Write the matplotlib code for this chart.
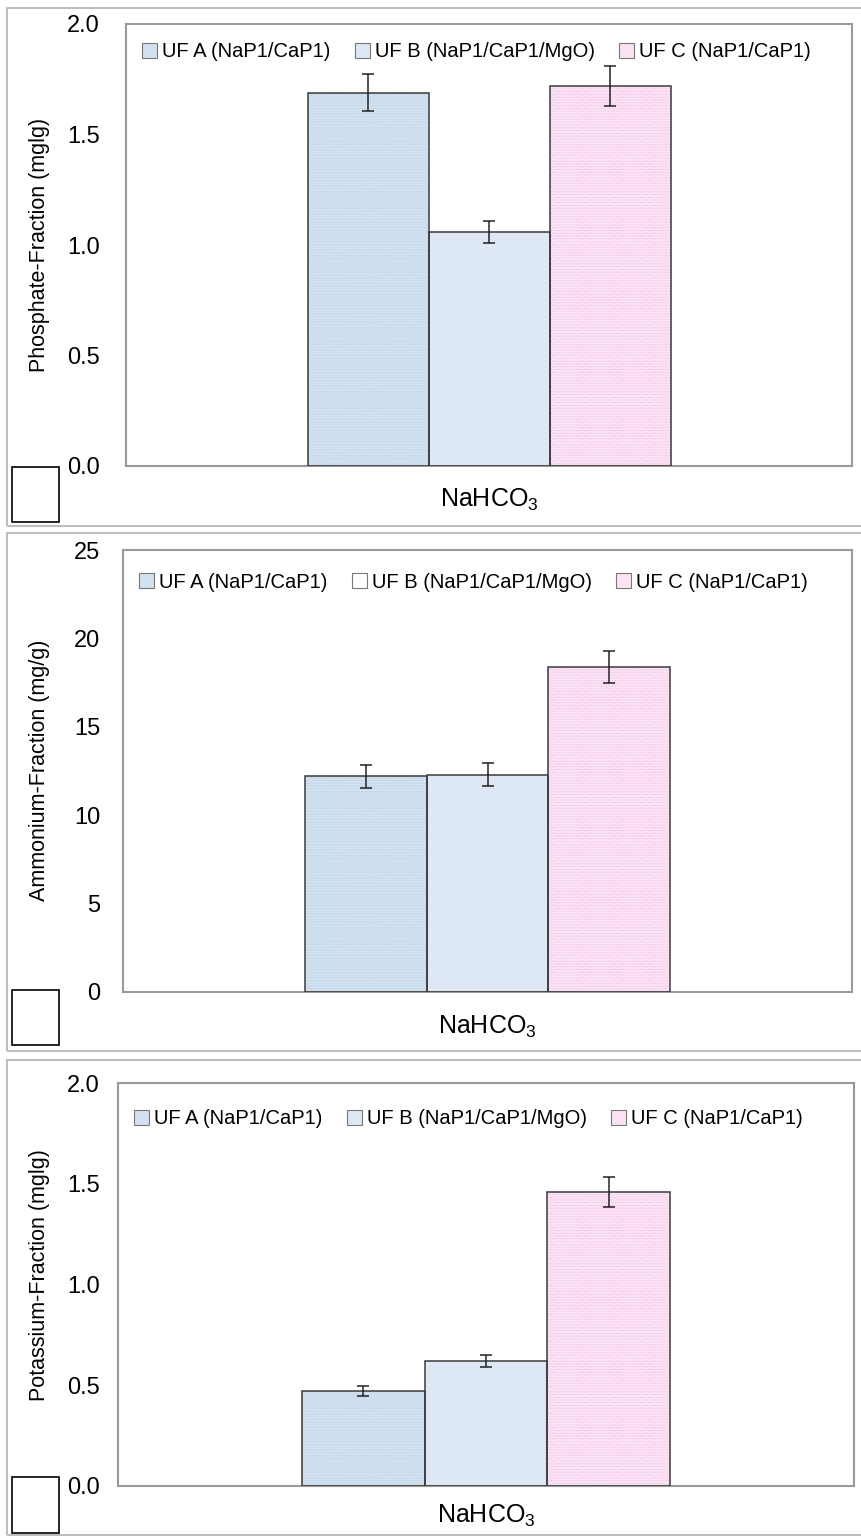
import matplotlib
matplotlib.use('Agg')
import matplotlib.pyplot as plt
from matplotlib.patches import Rectangle, Patch

# data
series = ['UF A (NaP1/CaP1)', 'UF B (NaP1/CaP1/MgO)', 'UF C (NaP1/CaP1)']
category = 'NaHCO$_3$'

phosphate = [1.69, 1.06, 1.72]
phosphate_err = [0.085, 0.05, 0.09]
ammonium = [12.2, 12.3, 18.4]
ammonium_err = [0.65, 0.65, 0.9]
potassium = [0.47, 0.62, 1.46]
potassium_err = [0.025, 0.03, 0.075]

ylabels = ['Phosphate-Fraction (mglg)', 'Ammonium-Fraction (mg/g)', 'Potassium-Fraction (mglg)']
yticks = [[0.0, 0.5, 1.0, 1.5, 2.0], [0, 5, 10, 15, 20, 25], [0.0, 0.5, 1.0, 1.5, 2.0]]
ytick_labels = [['0.0', '0.5', '1.0', '1.5', '2.0'], ['0', '5', '10', '15', '20', '25'],
                ['0.0', '0.5', '1.0', '1.5', '2.0']]

# colours
face = ['#d2e1f0', '#dde8f4', '#fbe3f5']
hatch_col = ['#b7cce2', None, '#ebb9e1']
legend_face = [face, [face[0], 'white', face[2]], face]

FONT = ['Liberation Sans', 'DejaVu Sans']
plt.rcParams['hatch.linewidth'] = 0.4
plt.rcParams['mathtext.fontset'] = 'custom'
plt.rcParams['mathtext.rm'] = 'Liberation Sans'

W, H = 861, 1536
fig = plt.figure(figsize=(W / 100, H / 100), dpi=100)

# pixel boxes: (left, top, right, bottom) of plot area, outer frame top/bottom, little box top
plots = [(126, 24, 852, 466), (123, 550, 852, 992), (118, 1083, 854, 1486)]
frames = [(8, 526), (533, 1051), (1060, 1535)]
boxes = [(467, 522), (990, 1045), (1477, 1533)]
xlab_y = [500, 1027, 1516]
ylab_y = [245, 770, 1275]
leg_y = [0.995, 0.985, 0.975]
data = [(phosphate, phosphate_err), (ammonium, ammonium_err), (potassium, potassium_err)]

def fx(px):
    return px / W

def fy(py):
    return 1 - py / H

for i in range(3):
    ft, fb = frames[i]
    fig.patches.append(Rectangle((fx(7), fy(fb)), fx(880 - 7), (fb - ft) / H,
                                 transform=fig.transFigure, fill=False,
                                 edgecolor='#bdbdbd', lw=1.5))
    bt, bb = boxes[i]
    fig.patches.append(Rectangle((fx(12), fy(bb)), fx(47), (bb - bt) / H,
                                 transform=fig.transFigure, facecolor='white',
                                 edgecolor='black', lw=1.2, zorder=5))

    l, t, r, b = plots[i]
    ax = fig.add_axes([fx(l), fy(b), (r - l) / W, (b - t) / H])
    vals, errs = data[i]
    width = 1 / 6
    for j in range(3):
        x = (j - 1) * width
        if hatch_col[j]:
            ax.bar(x, vals[j], width, color=face[j], edgecolor=hatch_col[j],
                   hatch='......', lw=0, zorder=2)
        else:
            ax.bar(x, vals[j], width, color=face[j], lw=0, zorder=2)
        ax.bar(x, vals[j], width, fill=False, edgecolor='#3a3a3a', lw=1.1, zorder=3)
        ax.errorbar(x, vals[j], yerr=errs[j], fmt='none', ecolor='#222222',
                    elinewidth=1.1, capsize=4, capthick=1.1, zorder=4)

    ax.set_xlim(-0.5, 0.5)
    ax.set_ylim(yticks[i][0], yticks[i][-1])
    ax.set_xticks([])
    ax.set_yticks(yticks[i])
    ax.set_yticklabels(ytick_labels[i], family=FONT, fontsize=17)
    ax.tick_params(axis='y', length=0, pad=(l - 100) * 0.72)
    for s in ax.spines.values():
        s.set_color('#9a9a9a')
        s.set_linewidth(1.5)

    fig.text(fx((l + r) / 2), fy(xlab_y[i]), category, ha='center', va='center',
             family=FONT, fontsize=18)
    fig.text(fx(40), fy(ylab_y[i]), ylabels[i], rotation=90, ha='center',
             va='center', family=FONT, fontsize=15.5)

    handles = [Patch(facecolor=legend_face[i][j], edgecolor='#777777', lw=0.8)
               for j in range(3)]
    ax.legend(handles, series, loc='upper left', bbox_to_anchor=(0.0, leg_y[i]), ncol=3,
              frameon=False, prop={'family': FONT, 'size': 14.5},
              handlelength=0.75, handleheight=0.75, handletextpad=0.25,
              columnspacing=1.2, borderaxespad=0.4)

fig.savefig('out.png', dpi=100)
